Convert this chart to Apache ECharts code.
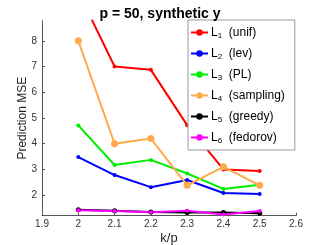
<!DOCTYPE html>
<html><head><meta charset="utf-8">
<script src="https://cdn.jsdelivr.net/npm/echarts@6/dist/echarts.min.js"></script>
<style>html,body{margin:0;padding:0;background:#fff}#c{width:327px;height:245px}</style>
</head><body><div id="c"></div>
<script>
const kp = [2.0, 2.1, 2.2, 2.3, 2.4, 2.5];
const L1 = [9.9, 7.0, 6.87, 4.72, 3.0, 2.94];
const L2 = [3.48, 2.78, 2.31, 2.59, 2.08, 2.04];
const L3 = [4.71, 3.17, 3.37, 2.84, 2.24, 2.40];
const L4 = [8.0, 4.0, 4.2, 2.38, 3.1, 2.38];
const L5 = [1.43, 1.39, 1.34, 1.32, 1.32, 1.30];
const L6 = [1.41, 1.38, 1.33, 1.39, 1.25, 1.38];
const xTicks = [1.9, 2.0, 2.1, 2.2, 2.3, 2.4, 2.5, 2.6];
const yTicks = [2, 3, 4, 5, 6, 7, 8];
const names = ['L1', 'L2', 'L3', 'L4', 'L5', 'L6'];
const labels = ['(unif)', '(lev)', '(PL)', '(sampling)', '(greedy)', '(fedorov)'];
const colors = ['#ff0000', '#0000ff', '#00ee00', '#ffa94d', '#000000', '#ff00ff'];
const allData = [L1, L2, L3, L4, L5, L6];
const symSizes = [4, 4, 4, 7, 5, 4];

const series = allData.map((d, i) => ({
  name: names[i],
  type: 'line',
  data: kp.map((x, j) => [x, d[j]]),
  color: colors[i],
  lineStyle: { width: 2, color: colors[i] },
  symbol: 'circle',
  symbolSize: symSizes[i],
  itemStyle: { color: colors[i] },
  showSymbol: true,
  clip: true,
  animation: false
}));

const chart = echarts.init(document.getElementById('c'), null, { renderer: 'canvas' });
const fmt = v => String(parseFloat(Number(v).toFixed(1)));
chart.setOption({
  animation: false,
  title: {
    text: 'p = 50, synthetic y',
    left: 155, top: 2, textAlign: 'center',
    textStyle: { fontFamily: 'Liberation Sans', fontSize: 14, fontWeight: 'bold', color: '#000' }
  },
  grid: { left: 42, right: 31, top: 20.7, bottom: 29.3, outerBoundsMode: 'none', containLabel: false },
  xAxis: {
    type: 'value', min: 1.9, max: 2.6,
    name: 'k/p', nameLocation: 'middle', nameGap: 16, nameMoveOverlap: false,
    nameTextStyle: { fontFamily: 'Liberation Sans', fontSize: 13, color: '#262626' },
    axisLine: { lineStyle: { color: '#555', width: 1 } },
    axisTick: { inside: true, length: 3, customValues: xTicks, lineStyle: { color: '#555' } },
    axisLabel: { customValues: xTicks, formatter: fmt, margin: 4, fontFamily: 'Liberation Sans', fontSize: 10, color: '#333' },
    splitLine: { show: false }
  },
  yAxis: {
    type: 'value', min: 1.2, max: 8.78,
    name: 'Prediction MSE', nameLocation: 'middle', nameGap: 13, nameMoveOverlap: false,
    nameTextStyle: { fontFamily: 'Liberation Sans', fontSize: 12, color: '#262626' },
    axisLine: { show: true, lineStyle: { color: '#555', width: 1 } },
    axisTick: { show: true, inside: true, length: 3, customValues: yTicks, lineStyle: { color: '#555' } },
    axisLabel: { customValues: yTicks, margin: 5, fontFamily: 'Liberation Sans', fontSize: 10, color: '#333' },
    splitLine: { show: false }
  },
  legend: {
    orient: 'vertical', left: 188, top: 20,
    data: names,
    backgroundColor: '#fff', borderColor: '#999', borderWidth: 1,
    padding: [5, 10, 5, 2],
    itemWidth: 17, itemHeight: 8, itemGap: 6,
    formatter: n => {
      const i = names.indexOf(n);
      return '{a|L}{s|' + (i + 1) + '}{a|  ' + labels[i] + '}';
    },
    textStyle: {
      fontFamily: 'Liberation Sans', fontSize: 12, color: '#000', padding: [0, 0, 0, -2],
      rich: {
        a: { fontFamily: 'Liberation Sans', fontSize: 12, color: '#000', lineHeight: 14 },
        s: { fontFamily: 'Liberation Sans', fontSize: 8, color: '#000', lineHeight: 14, padding: [7, 0, 0, 0] }
      }
    }
  },
  series: series
});
</script></body></html>
